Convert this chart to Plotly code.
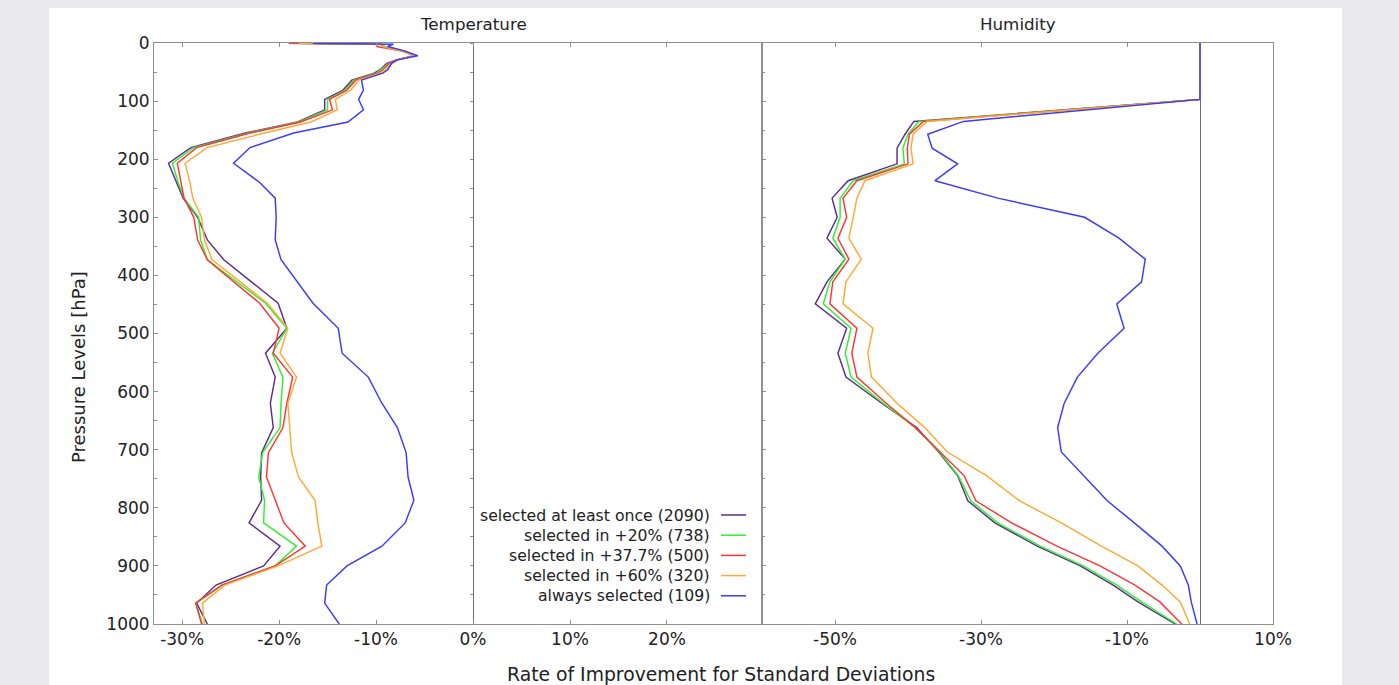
import plotly.graph_objects as go

# ---------------- data ----------------
series_names = [
    "selected at least once (2090)",
    "selected in +20% (738)",
    "selected in +37.7% (500)",
    "selected in +60% (320)",
    "always selected (109)",
]
series_colors = ["#5b2d8e", "#2ef02e", "#ff3535", "#ffa935", "#3a3aff"]

# Temperature panel (pressure levels in hPa, values in %)
temp_levels = [0.5, 2, 6, 14, 22, 29, 35, 46, 52, 64, 81, 97, 115, 136, 155, 180, 207,
               240, 267, 300, 339, 373, 448, 491, 534, 575, 620, 662, 705, 747, 787,
               826, 866, 900, 933, 964, 1000]
temp_once = [-18.9, -9.6, -9.2, -7.2, -6.0, -7.9, -8.9, -9.6, -10.2, -12.5, -13.4, -15.3,
             -15.3, -18.1, -23.5, -29.1, -31.4, -30.6, -29.9, -28.4, -27.4, -25.7, -20.1,
             -19.2, -21.4, -20.4, -20.9, -20.6, -21.8, -21.9, -21.8, -23.1, -19.9, -21.6,
             -26.5, -28.5, -27.4]
temp_20 = [-18.7, -9.4, -9.1, -7.1, -6.0, -7.8, -8.7, -9.5, -10.0, -12.3, -13.2, -15.0,
           -15.0, -18.0, -23.2, -28.8, -31.0, -30.4, -29.8, -28.3, -28.1, -27.4, -21.4,
           -19.2, -20.7, -19.6, -19.8, -19.9, -21.7, -22.1, -21.5, -21.6, -18.2, -20.4,
           -25.9, -28.6, -27.9]
temp_377 = [-19.0, -10.0, -9.9, -7.3, -6.1, -7.9, -8.6, -9.3, -9.8, -12.1, -13.0, -14.8,
            -14.5, -17.8, -23.0, -28.5, -30.5, -30.1, -29.8, -28.8, -28.4, -27.4, -22.0,
            -20.0, -20.6, -18.6, -19.2, -19.6, -21.1, -21.3, -20.4, -19.5, -17.3, -20.4,
            -25.9, -28.6, -28.0]
temp_60 = [-18.0, -9.5, -9.3, -7.4, -6.0, -7.7, -8.4, -9.0, -9.5, -11.8, -12.6, -14.2,
           -14.0, -16.7, -21.5, -27.4, -29.7, -29.2, -28.9, -28.0, -27.7, -26.9, -21.2,
           -19.1, -19.9, -18.2, -19.1, -18.9, -18.7, -18.0, -16.3, -16.0, -15.6, -20.1,
           -25.6, -27.9, -27.7]
temp_always = [-16.5, -8.2, -8.8, -7.0, -5.7, -7.8, -8.4, -8.8, -9.3, -11.5, -11.3, -11.8,
               -11.3, -12.9, -18.5, -23.0, -24.7, -22.0, -20.4, -20.3, -20.4, -19.8, -16.5,
               -13.9, -13.5, -10.8, -9.4, -7.8, -6.9, -6.7, -6.1, -7.0, -9.4, -13.0,
               -15.1, -15.3, -13.8]

# Humidity panel
hum_levels = [0, 97, 135, 157, 181, 208, 237, 267, 300, 336, 372, 411, 449, 491, 534,
              575, 620, 662, 704, 745, 788, 826, 866, 900, 933, 962, 1000]
hum_once = [0, 0, -39.2, -40.4, -41.5, -41.5, -48.2, -50.4, -49.7, -51.1, -48.6, -51.1,
            -52.7, -48.4, -49.6, -48.5, -43.6, -38.8, -35.8, -33.2, -31.8, -28.1, -22.3,
            -16.4, -11.9, -8.5, -3.4]
hum_20 = [0, 0, -38.5, -40.0, -40.7, -40.5, -47.5, -49.3, -49.3, -50.3, -48.6, -50.7,
          -51.6, -47.8, -48.6, -47.8, -43.4, -39.0, -35.7, -33.1, -31.4, -27.7, -21.9,
          -16.0, -11.4, -8.0, -3.2]
hum_377 = [0, 0, -37.9, -39.8, -40.1, -40.0, -47.0, -48.9, -48.4, -49.6, -48.1, -50.3,
           -50.7, -47.0, -47.7, -47.0, -43.0, -39.0, -35.6, -32.3, -30.7, -25.8, -19.6,
           -13.7, -8.9, -5.5, -2.5]
hum_60 = [0, 0, -37.4, -39.3, -39.6, -39.3, -45.9, -47.0, -47.5, -48.1, -46.4, -48.5,
          -48.9, -44.8, -45.5, -45.0, -41.5, -37.7, -34.6, -29.2, -24.7, -19.0, -13.5,
          -8.5, -5.2, -2.7, -1.4]
hum_always = [0, 0, -32.4, -37.3, -36.7, -33.2, -36.3, -27.7, -15.8, -11.1, -7.5, -8.0,
              -11.4, -10.4, -14.0, -16.8, -18.6, -19.5, -19.0, -15.9, -12.7, -9.0, -5.2,
              -2.7, -1.6, -1.2, -0.4]

temp_series = [temp_once, temp_20, temp_377, temp_60, temp_always]
hum_series = [hum_once, hum_20, hum_377, hum_60, hum_always]

temp_ticks = [-30, -20, -10, 0, 10, 20]
hum_ticks = [-50, -30, -10, 10]
p_ticks = list(range(0, 1001, 100))

# ---------------- figure ----------------
W, H = 1399, 685
ML, MR, MT, MB = 154, 126, 43, 61
pw = W - ML - MR
ph = H - MT - MB
split = (762 - ML) / pw
t_range = [-32.9, 29.8]
h_range = [-60.0, 10.0]

FONT = "DejaVu Sans, Liberation Sans, sans-serif"
TXT = "#222222"
FRAME = "#8f8f8f"
ZERO = "#6e6e6e"
BG = "#e9e9eb"
LW = 1.45

fig = go.Figure()
for vals, col in zip(temp_series, series_colors):
    fig.add_trace(go.Scatter(x=vals, y=temp_levels, mode="lines", xaxis="x", yaxis="y",
                             line=dict(color=col, width=LW), showlegend=False,
                             hoverinfo="skip"))
for vals, col in zip(hum_series, series_colors):
    fig.add_trace(go.Scatter(x=vals, y=hum_levels, mode="lines", xaxis="x2", yaxis="y2",
                             line=dict(color=col, width=LW), showlegend=False,
                             hoverinfo="skip"))
# dummy traces for the zero-line axes
fig.add_trace(go.Scatter(x=[None], y=[None], xaxis="x", yaxis="y3", showlegend=False))
fig.add_trace(go.Scatter(x=[None], y=[None], xaxis="x2", yaxis="y4", showlegend=False))

zero_t = split * (0 - t_range[0]) / (t_range[1] - t_range[0])
zero_h = split + (1 - split) * (0 - h_range[0]) / (h_range[1] - h_range[0])

common_x = dict(showgrid=False, zeroline=False, showline=True, linecolor=FRAME, linewidth=1,
                mirror="ticks", ticks="inside", ticklen=4, tickcolor=FRAME,
                tickfont=dict(family=FONT, size=17, color=TXT))
common_y = dict(showgrid=False, zeroline=False, showline=True, linecolor=FRAME, linewidth=1,
                range=[1000, 0], tickcolor=FRAME)

fig.update_layout(
    width=W, height=H,
    margin=dict(l=ML, r=MR, t=MT, b=MB, pad=0),
    paper_bgcolor=BG,
    plot_bgcolor="white",
    font=dict(family=FONT, size=17, color=TXT),
    showlegend=False,
    xaxis=dict(domain=[0, split], range=t_range, tickvals=temp_ticks,
               ticktext=[f"{v}%" for v in temp_ticks], anchor="y", **common_x),
    xaxis2=dict(domain=[split, 1], range=h_range, tickvals=hum_ticks,
                ticktext=[f"{v}%" for v in hum_ticks], anchor="y2", **common_x),
    yaxis=dict(anchor="x", ticks="inside", ticklen=4, mirror=True,
               tickvals=p_ticks, ticktext=[str(v) for v in p_ticks],
               minor=dict(dtick=50, ticks="inside", ticklen=3, tickcolor=FRAME),
               tickfont=dict(family=FONT, size=17, color=TXT), **common_y),
    yaxis2=dict(anchor="x2", ticks="inside", ticklen=4, mirror=True, showticklabels=False,
                tickvals=p_ticks, minor=dict(dtick=50, ticks="inside", ticklen=3, tickcolor=FRAME),
                **common_y),
    yaxis3=dict(overlaying="y", anchor="free", position=zero_t, side="left",
                showgrid=False, zeroline=False, showline=True, linecolor=ZERO, linewidth=1,
                range=[1000, 0], ticks="outside", ticklen=3, tickcolor=FRAME,
                tickvals=p_ticks, showticklabels=False, layer="below traces",
                minor=dict(dtick=50, ticks="outside", ticklen=3, tickcolor=FRAME)),
    yaxis4=dict(overlaying="y2", anchor="free", position=zero_h, side="left",
                showgrid=False, zeroline=False, showline=True, linecolor=ZERO, linewidth=1,
                range=[1000, 0], ticks="", showticklabels=False, layer="below traces"),
)

# white panel behind the chart
fig.add_shape(type="rect", xref="paper", yref="paper",
              x0=(49 - ML) / pw, x1=(1342 - ML) / pw,
              y0=-(MB + 5) / ph, y1=1 + (MT - 8) / ph,
              fillcolor="white", line=dict(width=0), layer="below")

# titles
fig.add_annotation(text="Temperature", xref="x", x=0, yref="paper", y=1 + (MT - 24) / ph,
                   showarrow=False, xanchor="center", yanchor="middle",
                   font=dict(family=FONT, size=16.7, color=TXT))
fig.add_annotation(text="Humidity", xref="paper", x=(split + 1) / 2, yref="paper",
                   y=1 + (MT - 24) / ph, showarrow=False, xanchor="center", yanchor="middle",
                   font=dict(family=FONT, size=16.7, color=TXT))
fig.add_annotation(text="Rate of Improvement for Standard Deviations", xref="paper",
                   x=(721 - ML) / pw, yref="paper", y=-(674 - (MT + ph)) / ph,
                   showarrow=False, xanchor="center", yanchor="middle",
                   font=dict(family=FONT, size=18.8, color=TXT))
fig.add_annotation(text="Pressure Levels [hPa]", xref="paper", x=(78 - ML) / pw,
                   yref="paper", y=1 - (367 - MT) / ph, textangle=-90,
                   showarrow=False, xanchor="center", yanchor="middle",
                   font=dict(family=FONT, size=18, color=TXT))

# legend (text on the left, line sample on the right)
for i, (name, col) in enumerate(zip(series_names, series_colors)):
    yy = 1 - (515 + i * 20.2 - MT) / ph
    fig.add_annotation(text=name, xref="paper", x=(712 - ML) / pw, yref="paper", y=yy,
                       showarrow=False, xanchor="right", yanchor="middle",
                       font=dict(family=FONT, size=15.7, color=TXT))
    fig.add_shape(type="line", xref="paper", yref="paper",
                  x0=(721 - ML) / pw, x1=(746 - ML) / pw, y0=yy, y1=yy,
                  line=dict(color=col, width=1.5))

fig.write_html("out.html",
               config={"displayModeBar": False},
               post_script="document.body.style.margin='0';"
                           "document.body.style.background='" + BG + "';")
